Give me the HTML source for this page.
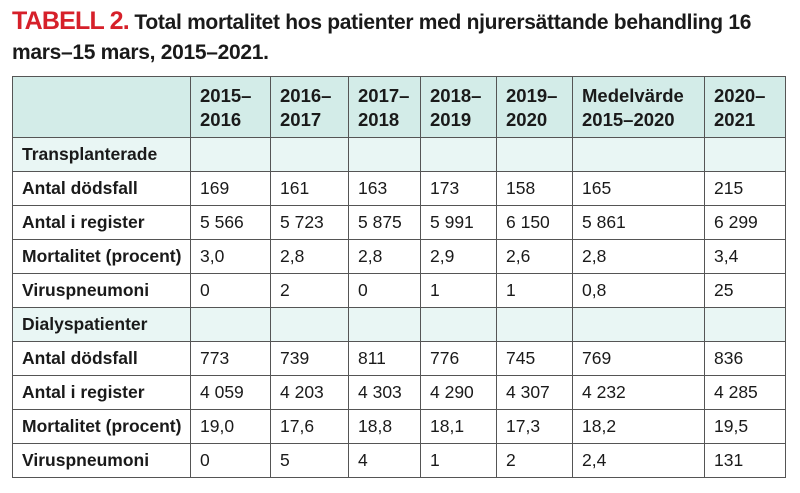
<!DOCTYPE html>
<html><head><meta charset="utf-8"><style>
body{margin:0;width:800px;height:493px;background:#fff;overflow:hidden;font-family:"Liberation Sans",sans-serif;color:#1a1a1a}
.t{position:absolute;left:12px;top:6px;width:780px;font-family:"Liberation Sans",sans-serif;font-weight:bold;font-size:21px;line-height:30px;letter-spacing:-0.3px}
.t b{color:#d6202a;font-size:25px;letter-spacing:-0.8px}
table{position:absolute;left:12px;top:76px;border-collapse:collapse;table-layout:fixed}
td{border:1.5px solid #555;padding:0 0 0 9px;height:33px;font-size:17.5px;white-space:nowrap;overflow:hidden}
tr.h td{height:58px;background:#d3ece8;font-size:18.5px;font-weight:bold;line-height:24px;padding-top:2px}
tr.s td{background:#e9f6f4}
td:first-child{font-weight:bold}
</style></head><body>
<div class="t"><b>TABELL 2.</b> Total mortalitet hos patienter med njurersättande behandling 16 mars–15 mars, 2015–2021.</div>
<table>
<colgroup><col style="width:178px"><col style="width:80px"><col style="width:78px"><col style="width:72px"><col style="width:76px"><col style="width:76px"><col style="width:132px"><col style="width:81px"></colgroup>
<tr class="h"><td></td><td>2015–<br>2016</td><td>2016–<br>2017</td><td>2017–<br>2018</td><td>2018–<br>2019</td><td>2019–<br>2020</td><td>Medelvärde<br>2015–2020</td><td>2020–<br>2021</td></tr>
<tr class="s"><td>Transplanterade</td><td></td><td></td><td></td><td></td><td></td><td></td><td></td></tr>
<tr><td>Antal dödsfall</td><td>169</td><td>161</td><td>163</td><td>173</td><td>158</td><td>165</td><td>215</td></tr>
<tr><td>Antal i register</td><td>5 566</td><td>5 723</td><td>5 875</td><td>5 991</td><td>6 150</td><td>5 861</td><td>6 299</td></tr>
<tr><td>Mortalitet (procent)</td><td>3,0</td><td>2,8</td><td>2,8</td><td>2,9</td><td>2,6</td><td>2,8</td><td>3,4</td></tr>
<tr><td>Viruspneumoni</td><td>0</td><td>2</td><td>0</td><td>1</td><td>1</td><td>0,8</td><td>25</td></tr>
<tr class="s"><td>Dialyspatienter</td><td></td><td></td><td></td><td></td><td></td><td></td><td></td></tr>
<tr><td>Antal dödsfall</td><td>773</td><td>739</td><td>811</td><td>776</td><td>745</td><td>769</td><td>836</td></tr>
<tr><td>Antal i register</td><td>4 059</td><td>4 203</td><td>4 303</td><td>4 290</td><td>4 307</td><td>4 232</td><td>4 285</td></tr>
<tr><td>Mortalitet (procent)</td><td>19,0</td><td>17,6</td><td>18,8</td><td>18,1</td><td>17,3</td><td>18,2</td><td>19,5</td></tr>
<tr><td>Viruspneumoni</td><td>0</td><td>5</td><td>4</td><td>1</td><td>2</td><td>2,4</td><td>131</td></tr>
</table>
</body></html>
